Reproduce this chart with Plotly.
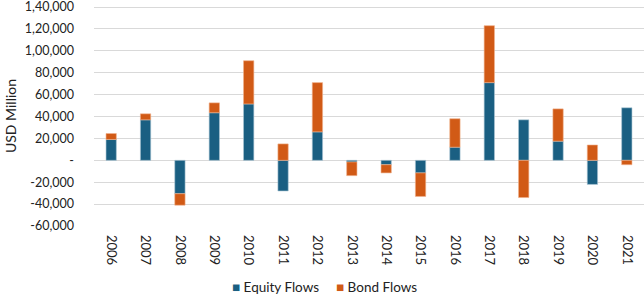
import plotly.graph_objects as go

years = [str(y) for y in range(2006, 2022)]
equity = [19000, 37000, -30500, 43500, 51500, -28000, 26000, -1500,
          -4000, -11500, 12000, 71000, 37000, 17500, -22000, 48000]
bond = [5500, 5500, -10500, 9000, 39500, 15000, 45000, -12500,
        -7500, -21500, 26000, 52000, -34000, 29500, 14000, -4000]

tick_vals = [-60000, -40000, -20000, 0, 20000, 40000, 60000, 80000, 100000, 120000, 140000]
tick_text = ["-60,000", "-40,000", "-20,000", "-", "20,000", "40,000", "60,000",
             "80,000", "1,00,000", "1,20,000", "1,40,000"]

blue = "#1a5f82"
orange = "#d15a16"
font = "Lato"
names = ["Equity Flows", "Bond Flows"]

fig = go.Figure()
fig.add_trace(go.Bar(x=years, y=equity, name=names[0], marker_color=blue,
                     marker_line=dict(color="#a9c4d4", width=0.6), showlegend=False))
fig.add_trace(go.Bar(x=years, y=bond, name=names[1], marker_color=orange,
                     marker_line=dict(color="#f0b08c", width=0.6), showlegend=False))

# legend drawn as text entries
for nm, col, xp in [(names[0], blue, 0.248), (names[1], orange, 0.437)]:
    fig.add_annotation(xref="paper", yref="paper", x=xp, y=-0.278, xanchor="left",
                       yanchor="middle", showarrow=False,
                       text=f"<span style='color:{col}'>■</span> {nm}",
                       font=dict(family=font, size=13.5, color="#222"))

fig.update_layout(
    width=644, height=298,
    barmode="relative",
    bargap=0.7,
    plot_bgcolor="white", paper_bgcolor="white",
    margin=dict(l=94, r=0, t=6, b=72),
    font=dict(family=font, size=13, color="#222"),
    showlegend=False,
)
fig.update_xaxes(tickangle=90, showgrid=False, showline=False, ticks="",
                 tickfont=dict(size=13), ticklabelstandoff=8)
fig.update_yaxes(range=[-60000, 141000], tickvals=tick_vals, ticktext=tick_text,
                 showgrid=True, gridcolor="#d9d9d9", gridwidth=1,
                 zeroline=False, showline=False, ticklabelstandoff=19,
                 ticklabeloverflow="allow",
                 title=dict(text="USD Million", font=dict(size=14), standoff=4),
                 tickfont=dict(size=12.5))

fig.write_html("out.html")
